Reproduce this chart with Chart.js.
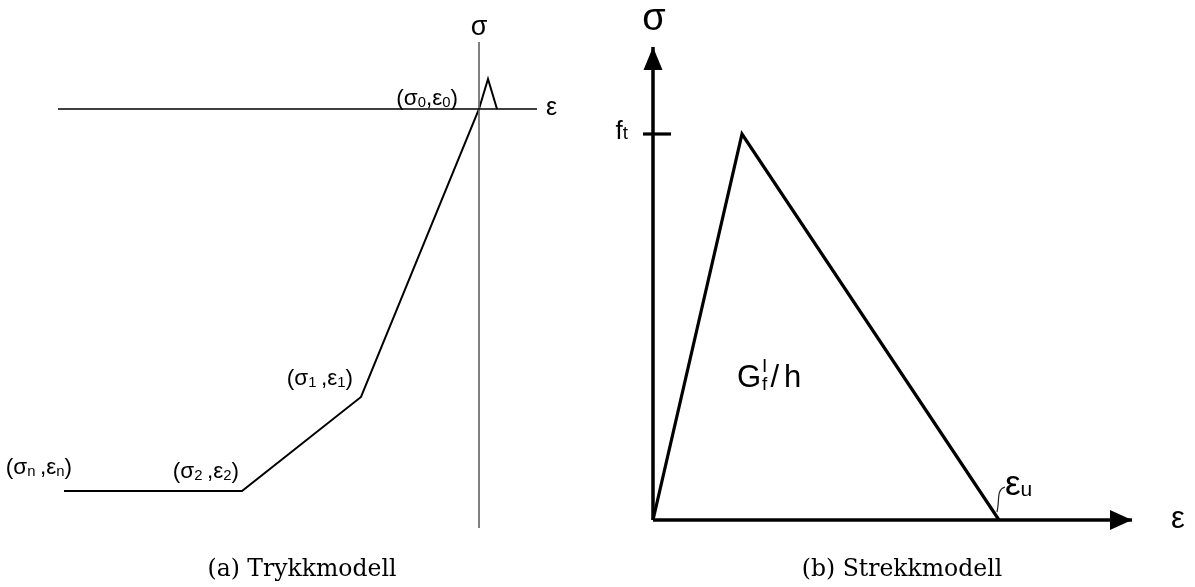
<!DOCTYPE html>
<html>
<head>
<meta charset="utf-8">
<script src="https://cdn.jsdelivr.net/npm/chart.js@4/dist/chart.umd.min.js"></script>
<style>
  html, body { margin: 0; padding: 0; background: #fff; }
  #wrap { position: relative; width: 1195px; height: 587px; overflow: hidden; }
  #wrap canvas { position: absolute; top: 0; }
  .cap { position: absolute; top: 557px; font-family: "DejaVu Serif", serif; font-size: 23.5px;
         line-height: 23px; white-space: nowrap; transform: translateX(-50%); color: #000; }
</style>
</head>
<body>
<div id="wrap">
  <canvas id="comp" width="597" height="587" style="left:0"></canvas>
  <canvas id="tens" width="598" height="587" style="left:597px"></canvas>
  <div class="cap" style="left:302px">(a) Trykkmodell</div>
  <div class="cap" style="left:902px">(b) Strekkmodell</div>
</div>
<script>
// ---- (a) compression model: multilinear curve, plateau -> (σ1,ε1) -> origin -> small tension peak
const compStrain = [-41.5, -23.7, -11.8, 0, 0.9, 1.8];
const compStress = [-38.2, -38.2, -28.8, 0, 3.0, 0];
const compPointNames = ['(σ_n\u2009,ε_n)', '(σ_2\u2009,ε_2)', '(σ_1\u2009,ε_1)', '(σ_0,ε_0)'];
const compNamedIndex = [0, 1, 2, 3];
const compAxisStrain = [-42.1, 5.8];   // extent of the ε axis
const compAxisStress = [6.7, -41.9];   // extent of the σ axis

// ---- (b) tension model: linear rise to f_t, linear softening to ε_u
const tensStrain = [0, 8.9, 34.6];
const tensStress = [0, 38.6, 0];
const tensAxisStrain = [0, 47.9];      // ε axis, origin to arrow tip
const tensAxisStress = [0, 47.3];      // σ axis, origin to arrow tip
const tensTickStrain = [-1.0, 1.8];    // short tick marking f_t

const SANS = '"Liberation Sans", Arial, sans-serif';

function pts(xs, ys) { return xs.map((x, i) => ({ x, y: ys[i] })); }

function lineSet(data, color, width) {
  return { data, showLine: true, borderColor: color, borderWidth: width, pointRadius: 0,
           fill: false, tension: 0, borderCapStyle: 'butt', borderJoinStyle: 'miter' };
}

// text with "_x" subscripts
function drawRich(ctx, str, x, base, size, align, subScale, subDrop) {
  const parts = [];
  for (let i = 0; i < str.length; i++) {
    if (str[i] === '_') { parts.push({ t: str[i + 1], sub: true }); i++; }
    else parts.push({ t: str[i], sub: false });
  }
  const w = parts.map(p => { ctx.font = (p.sub ? size * subScale : size) + 'px ' + SANS; return ctx.measureText(p.t).width; });
  const total = w.reduce((a, b) => a + b, 0);
  let cx = align === 'right' ? x - total : align === 'center' ? x - total / 2 : x;
  parts.forEach((p, i) => {
    ctx.font = (p.sub ? size * subScale : size) + 'px ' + SANS;
    ctx.fillText(p.t, cx, base + (p.sub ? size * subDrop : 0));
    cx += w[i];
  });
}

function baseOptions(xmin, xmax, ymin, ymax) {
  return {
    responsive: false, animation: false, devicePixelRatio: 1,
    layout: { padding: 0 },
    plugins: { legend: { display: false }, tooltip: { enabled: false } },
    scales: {
      x: { type: 'linear', min: xmin, max: xmax, display: false },
      y: { type: 'linear', min: ymin, max: ymax, display: false }
    }
  };
}

// ---------- chart (a)
const compLabelOffsets = [ [8, -17], [-3, -13], [-8, -12], [-21, -4] ];   // right edge / baseline, px from point

new Chart(document.getElementById('comp'), {
  type: 'scatter',
  data: { datasets: [
    lineSet(pts(compAxisStrain, [0, 0]), '#000', 1.3),
    lineSet(pts([0, 0], compAxisStress), '#6e6e6e', 1),
    lineSet(pts(compStrain, compStress), '#000', 2)
  ] },
  options: baseOptions(-47.9, 11.8, -47.8, 10.9),
  plugins: [{
    id: 'compLabels',
    afterDatasetsDraw(chart) {
      const { ctx, scales: { x, y } } = chart;
      ctx.save();
      ctx.fillStyle = '#000';
      ctx.textBaseline = 'alphabetic';
      compNamedIndex.forEach((k, i) => {
        const px = x.getPixelForValue(compStrain[k]);
        const py = y.getPixelForValue(compStress[k]);
        const [dx, dy] = compLabelOffsets[i];
        drawRich(ctx, compPointNames[i], px + dx, py + dy, 22.5, 'right', 0.66, 0.1);
      });
      // axis names
      ctx.textAlign = 'center';
      ctx.font = '27px ' + SANS;
      ctx.fillText('σ', x.getPixelForValue(0), y.getPixelForValue(compAxisStress[0]) - 7);
      ctx.textAlign = 'left';
      ctx.font = '25px ' + SANS;
      ctx.fillText('ε', x.getPixelForValue(compAxisStrain[1]) + 9, y.getPixelForValue(0) + 6);
      ctx.restore();
    }
  }]
});

// ---------- chart (b)
const ft = tensStress[1];
const epsU = tensStrain[2];

new Chart(document.getElementById('tens'), {
  type: 'scatter',
  data: { datasets: [
    lineSet(pts(tensAxisStrain, [0, 0]), '#000', 3.5),
    lineSet(pts([0, 0], tensAxisStress), '#000', 3.5),
    lineSet(pts(tensTickStrain, [ft, ft]), '#000', 3.2),
    lineSet(pts(tensStrain, tensStress), '#000', 3.2)
  ] },
  options: baseOptions(-5.6, 54.2, -6.7, 52.0),
  plugins: [{
    id: 'tensDecor',
    afterDatasetsDraw(chart) {
      const { ctx, scales: { x, y } } = chart;
      const ox = x.getPixelForValue(0), oy = y.getPixelForValue(0);
      ctx.save();
      ctx.fillStyle = '#000';
      // arrow heads
      const tipY = y.getPixelForValue(tensAxisStress[1]);
      ctx.beginPath();
      ctx.moveTo(ox, tipY); ctx.lineTo(ox - 9.5, tipY + 23); ctx.lineTo(ox + 9.5, tipY + 23); ctx.closePath(); ctx.fill();
      const tipX = x.getPixelForValue(tensAxisStrain[1]);
      ctx.beginPath();
      ctx.moveTo(tipX, oy); ctx.lineTo(tipX - 22, oy - 10); ctx.lineTo(tipX - 22, oy + 10); ctx.closePath(); ctx.fill();

      // leader from ε_u label to its point
      const ux = x.getPixelForValue(epsU);
      ctx.strokeStyle = '#222'; ctx.lineWidth = 1.2;
      ctx.beginPath();
      ctx.moveTo(ux + 6, oy - 33);
      ctx.bezierCurveTo(ux - 3, oy - 30, ux + 1, oy - 20, ux - 2, oy - 8);
      ctx.stroke();

      ctx.fillStyle = '#000';
      ctx.textBaseline = 'alphabetic';
      // axis names
      ctx.textAlign = 'center';
      ctx.font = '38px ' + SANS;
      ctx.fillText('σ', ox + 1, tipY - 17);
      ctx.textAlign = 'left';
      ctx.font = '31px ' + SANS;
      ctx.fillText('ε', tipX + 39, oy + 8);

      // f_t
      drawRich(ctx, 'f_t', x.getPixelForValue(tensTickStrain[0]) - 15, y.getPixelForValue(ft) + 5, 26, 'right', 0.72, 0);
      // ε_u
      drawRich(ctx, 'ε_u', ux + 6, oy - 25, 35, 'left', 0.6, 0.02);

      // fracture energy label G_f^I / h, placed from the triangle's centroid
      const cxp = x.getPixelForValue((tensStrain[0] + tensStrain[1] + tensStrain[2]) / 3);
      const cyp = y.getPixelForValue((tensStress[0] + tensStress[1] + tensStress[2]) / 3) - 4;
      let sx = cxp - 61;
      ctx.font = '31px ' + SANS;
      const wG = ctx.measureText('G').width;
      ctx.fillText('G', sx, cyp);
      sx += wG + 1;
      ctx.font = '19px ' + SANS;
      const wS = Math.max(ctx.measureText('I').width, ctx.measureText('f').width);
      ctx.fillText('I', sx, cyp - 15);
      ctx.fillText('f', sx, cyp + 3);
      sx += wS + 3;
      ctx.font = '31px ' + SANS;
      ctx.fillText('/', sx, cyp);
      sx += ctx.measureText('/').width + 5;
      ctx.fillText('h', sx, cyp);
      ctx.restore();
    }
  }]
});
</script>
</body>
</html>
